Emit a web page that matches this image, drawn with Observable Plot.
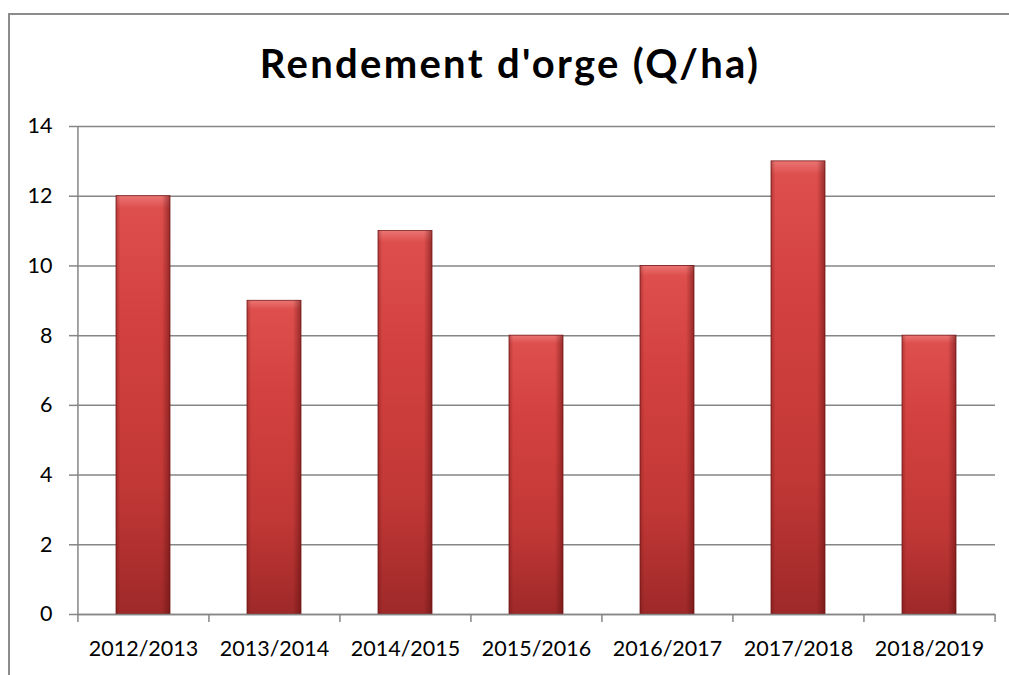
<!DOCTYPE html>
<html>
<head>
<meta charset="utf-8">
<script src="https://cdn.jsdelivr.net/npm/d3@7"></script>
<script src="https://cdn.jsdelivr.net/npm/@observablehq/plot@0.6"></script>
<style>
  html, body { margin: 0; padding: 0; background: #fff; overflow: hidden; }
  #wrap { position: relative; width: 1009px; height: 675px; overflow: hidden; font-family: Lato, "Open Sans", sans-serif; }
  #title { position: absolute; left: 10px; width: 1000px; top: 39px; line-height: 1.2; text-align: center; font-weight: bold; font-size: 40px; letter-spacing: 2.3px; color: #000; white-space: nowrap; }
  #chart { position: absolute; left: 0; top: 0; }
</style>
</head>
<body>
<div id="wrap">
  <div id="chart"></div>
  <div id="title">Rendement d'orge (Q/ha)</div>
</div>
<script>
const seasons = ["2012/2013", "2013/2014", "2014/2015", "2015/2016", "2016/2017", "2017/2018", "2018/2019"];
const yields = [12, 9, 11, 8, 10, 13, 8];
const yTicks = [0, 2, 4, 6, 8, 10, 12, 14];

const data = seasons.map((s, i) => ({season: s, value: yields[i]}));

const W = 1009, H = 675;
const mL = 77, mR = 14, mT = 126, mB = 61;
const band = (W - mL - mR) / seasons.length;
const font = "Lato, 'Open Sans', sans-serif";

const chart = Plot.plot({
  width: W,
  height: H,
  marginLeft: mL,
  marginRight: mR,
  marginTop: mT,
  marginBottom: mB,
  style: {background: "transparent", fontFamily: font, fontSize: "21.5px", color: "#000"},
  x: {domain: seasons, paddingInner: 0.588, paddingOuter: 0.294, label: null},
  y: {domain: [0, 14], label: null},
  marks: [
    Plot.gridY(yTicks, {stroke: "#868686", strokeOpacity: 1, strokeWidth: 1.5}),
    Plot.barY(data, {x: "season", y: "value", fill: "url(#barGrad)", stroke: "#7a1a1a", strokeWidth: 0.8}),
    Plot.barY(data, {x: "season", y: "value", fill: "url(#edgeGrad)"}),
    Plot.ruleX([seasons[0]], {x: d => d, y1: 0, y2: 14, dx: -band / 2, stroke: "#868686", strokeWidth: 1.5}),
    Plot.ruleY([0], {stroke: "#868686", strokeWidth: 1.5}),
    Plot.axisY(yTicks, {tickSize: 8, tickPadding: 17, stroke: "#868686", strokeWidth: 1.5, fontSize: 21.5, label: null}),
    Plot.axisX({tickSize: 0, tickPadding: 26, fontSize: 21.5, label: null}),
    Plot.axisX({tickSize: 8, text: null, dx: -band / 2, stroke: "#868686", strokeWidth: 1.5, label: null}),
    Plot.axisX([seasons[seasons.length - 1]], {tickSize: 8, text: null, dx: band / 2, stroke: "#868686", strokeWidth: 1.5, label: null})
  ]
});

const svg = d3.select(chart);
const defs = svg.insert("defs", ":first-child");
const g1 = defs.append("linearGradient").attr("id", "barGrad").attr("x1", 0).attr("y1", 0).attr("x2", 0).attr("y2", 1);
g1.append("stop").attr("offset", "0").attr("stop-color", "#f27a78");
g1.append("stop").attr("offset", "0.03").attr("stop-color", "#e45250");
g1.append("stop").attr("offset", "0.3").attr("stop-color", "#d94442");
g1.append("stop").attr("offset", "0.7").attr("stop-color", "#c63a38");
g1.append("stop").attr("offset", "1").attr("stop-color", "#a22a2a");
const g2 = defs.append("linearGradient").attr("id", "edgeGrad").attr("x1", 0).attr("y1", 0).attr("x2", 1).attr("y2", 0);
g2.append("stop").attr("offset", "0").attr("stop-color", "#5a0e0e").attr("stop-opacity", 0.35);
g2.append("stop").attr("offset", "0.08").attr("stop-color", "#5a0e0e").attr("stop-opacity", 0.05);
g2.append("stop").attr("offset", "0.85").attr("stop-color", "#5a0e0e").attr("stop-opacity", 0.05);
g2.append("stop").attr("offset", "1").attr("stop-color", "#5a0e0e").attr("stop-opacity", 0.55);

// outer chart-area border (top and left edges only are visible in the reference)
svg.insert("path", "defs + *")
  .attr("d", "M9,676 L9,14 L1012,14")
  .attr("fill", "none")
  .attr("stroke", "#8c8c8c")
  .attr("stroke-width", 2);

document.getElementById("chart").appendChild(chart);
</script>
</body>
</html>
